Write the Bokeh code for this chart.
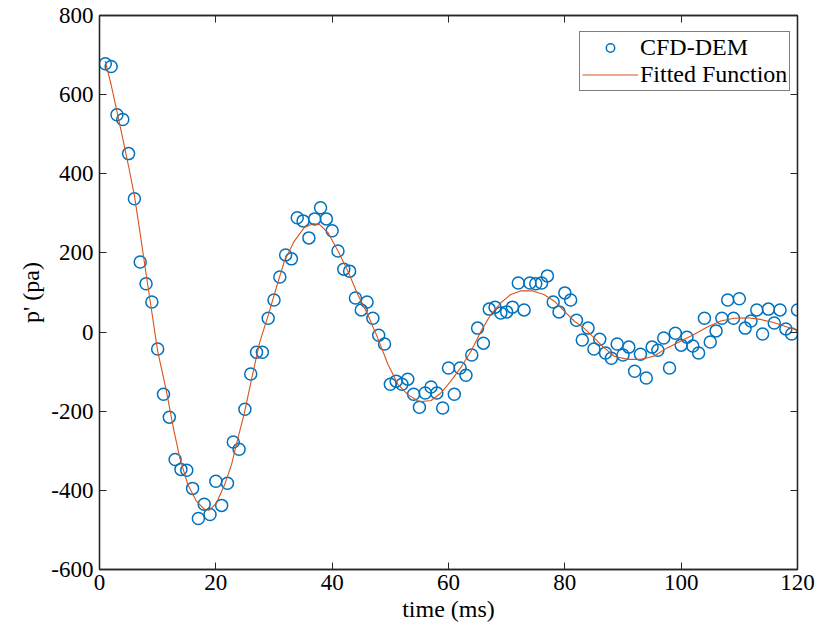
from bokeh.plotting import figure
from bokeh.models import Range1d, FixedTicker, LinearAxis, Legend, LegendItem
from bokeh.embed import file_html
from bokeh.resources import INLINE

# ---- data ----
time_ms = list(range(1, 121))
p_cfd = [678, 671, 549, 537, 451, 337, 177, 122, 76, -43,
         -157, -215, -322, -347, -349, -395, -471, -435, -461, -377,
         -438, -382, -278, -296, -195, -106, -51, -51, 35, 81,
         139, 195, 185, 289, 281, 238, 286, 314, 286, 256,
         205, 159, 154, 86, 56, 76, 35, -8, -30, -132,
         -124, -132, -119, -157, -190, -154, -139, -154, -192, -91,
         -157, -91, -109, -58, 10, -28, 58, 63, 48, 51,
         63, 124, 56, 124, 122, 124, 142, 76, 51, 99,
         81, 30, -20, 10, -43, -18, -53, -66, -30, -58,
         -38, -99, -56, -116, -38, -46, -15, -91, -3, -33,
         -13, -35, -53, 35, -25, 3, 35, 81, 35, 84,
         10, 28, 56, -5, 58, 23, 56, 8, -5, 56]

fit_t = [1, 2, 3, 4, 5, 6, 7, 8, 9, 10, 11.5, 12.7, 13.8, 15.2, 16.7, 18.1, 18.9,
         20.1, 21.5, 22.7, 23.8, 24.9, 26.1, 27.5, 29, 30.4, 31.8, 33.5, 35.2, 36.7,
         37.8, 39.3, 41, 42.7, 44.4, 46.1, 47.8, 49.6, 51.3, 53, 55, 57, 58.7, 60.4,
         62.1, 63.9, 65.6, 67.3, 69, 70.7, 72.4, 74.5, 76.4, 78.2, 79.9, 81.6, 83.3,
         85, 86.5, 88.5, 90.8, 93, 95.3, 97.6, 99.9, 102.2, 104.5, 106.8, 109.1,
         111.4, 113.6, 115.9, 118.2, 120]
fit_p = [685, 625, 558, 489, 419, 345, 248, 148, 50, -48, -149, -242, -318, -386, -428,
         -449, -450, -432, -386, -335, -268, -205, -122, -28, 42, 112, 180, 230, 264,
         274, 272, 251, 205, 154, 95, 45, -14, -82, -132, -158, -176, -173, -154, -124,
         -90, -48, 3, 45, 74, 95, 104, 104, 95, 78, 53, 28, 10, -14, -36, -61, -69,
         -69, -61, -40, -23, -6, 13, 28, 35, 36, 32, 24, 13, 5]

x_ticks = [0, 20, 40, 60, 80, 100, 120]
y_ticks = [-600, -400, -200, 0, 200, 400, 600, 800]
x_tick_labels = {v: str(v) for v in x_ticks}
y_tick_labels = {v: str(v) for v in y_ticks}

FONT = "Liberation Serif"
AX = "#262626"

p = figure(frame_width=698, frame_height=554, output_backend="svg", toolbar_location=None,
           x_range=Range1d(0, 120), y_range=Range1d(-600, 800))
p.min_border_left = 99
p.min_border_top = 15
p.min_border_right = 25
p.min_border_bottom = 58
p.grid.visible = False
p.background_fill_color = "white"
p.border_fill_color = "white"
p.outline_line_color = AX
p.outline_line_width = 1.3

def style_axis(ax, ticks, overrides=None):
    ax.ticker = FixedTicker(ticks=ticks)
    ax.major_tick_in = 7
    ax.major_tick_out = 0
    ax.minor_tick_line_color = None
    ax.axis_line_color = AX
    ax.axis_line_width = 1.3
    ax.major_tick_line_color = AX
    ax.major_tick_line_width = 1.0
    if overrides is not None:
        ax.major_label_overrides = overrides
        ax.major_label_text_font = FONT
        ax.major_label_text_font_size = "23px"
        ax.major_label_text_color = "black"
        ax.axis_label_text_font = FONT
        ax.axis_label_text_font_size = "24px"
        ax.axis_label_text_font_style = "normal"
        ax.axis_label_text_color = "black"
    else:
        # tick marks only (box-style frame), no labels
        ax.major_label_overrides = {v: "" for v in ticks}
        ax.major_label_text_font_size = "0px"
        ax.major_label_standoff = 0

style_axis(p.xaxis[0], x_ticks, x_tick_labels)
style_axis(p.yaxis[0], y_ticks, y_tick_labels)
p.xaxis[0].axis_label = "time (ms)"
p.yaxis[0].axis_label = "p' (pa)"
p.xaxis[0].major_label_standoff = 5
p.xaxis[0].axis_label_standoff = 3
p.yaxis[0].major_label_standoff = 6
p.yaxis[0].axis_label_standoff = 4

top_ax = LinearAxis()
style_axis(top_ax, x_ticks)
p.add_layout(top_ax, "above")
right_ax = LinearAxis()
style_axis(right_ax, y_ticks)
p.add_layout(right_ax, "right")

r_pts = p.scatter(time_ms, p_cfd, marker="circle", size=12, fill_color=None,
                  line_color="#0072BD", line_width=1.5)
r_fit = p.line(fit_t, fit_p, line_color="#D95319", line_width=1.1)

legend = Legend(items=[LegendItem(label="CFD-DEM", renderers=[r_pts]),
                       LegendItem(label="Fitted Function", renderers=[r_fit])],
                location=(480, 478))
legend.label_text_font = FONT
legend.label_text_font_size = "24px"
legend.label_text_color = "black"
legend.border_line_color = "black"
legend.border_line_width = 1
legend.background_fill_color = "white"
legend.background_fill_alpha = 1
legend.padding = 2
legend.spacing = 0
legend.margin = 0
legend.glyph_width = 56
legend.glyph_height = 21
legend.label_height = 21
legend.label_standoff = 2
p.add_layout(legend, "center")

open("out.html", "w").write(file_html(p, INLINE))
